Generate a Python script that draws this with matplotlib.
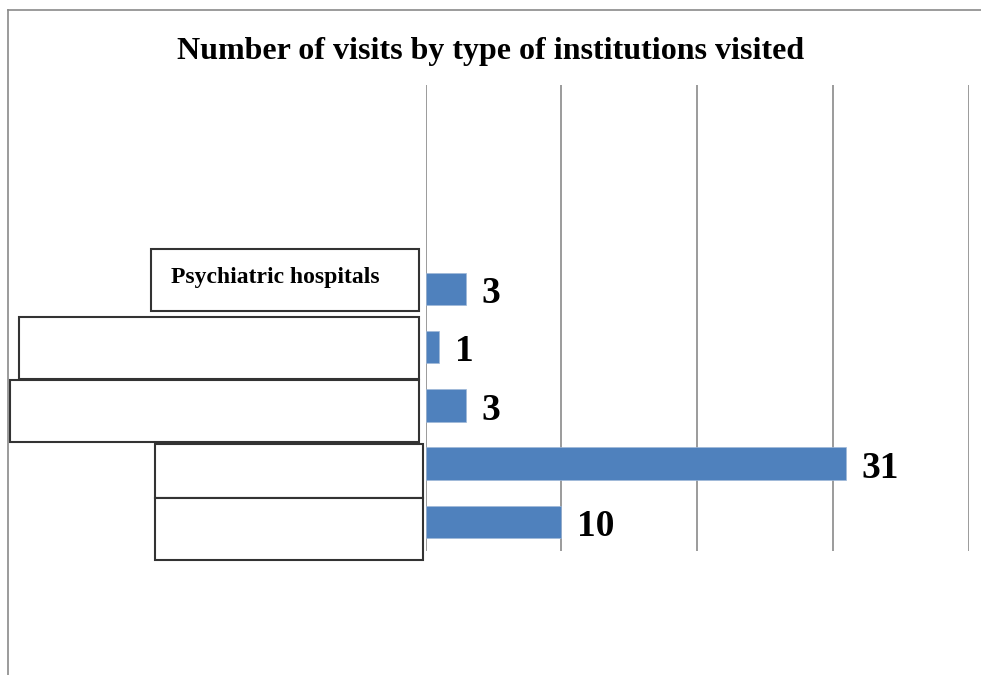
import matplotlib
matplotlib.use("Agg")
import matplotlib.pyplot as plt
from matplotlib.patches import Rectangle
from matplotlib.lines import Line2D

# ---- data (top to bottom as shown) ----
categories = ["", "", "", "Psychiatric hospitals", "", "", "", ""]
values = [None, None, None, 3, 1, 3, 31, 10]
x_ticks = [0, 10, 20, 30, 40]
title = "Number of visits by type of institutions visited"

W, H = 981, 675
fig = plt.figure(figsize=(W / 100, H / 100), dpi=100)
serif = ["Liberation Serif", "DejaVu Serif"]

def fx(px):
    return px / W

def fy(py):
    return 1 - py / H

# outer frame (top and left)
fig.add_artist(Line2D([fx(8), 1], [fy(10), fy(10)], color="#8a8a8a", lw=1.2))
fig.add_artist(Line2D([fx(8), fx(8)], [fy(10), 0], color="#8a8a8a", lw=1.2))

ax = fig.add_axes([fx(425.5), fy(551), fx(968.5) - fx(425.5), fy(85) - fy(551)])
n = len(categories)
ypos = [n - 1 - i for i in range(n)]
for y, v in zip(ypos, values):
    if v is None:
        continue
    ax.barh(y, v, height=0.56, color="#4F81BD", edgecolor="#9fb8d8", lw=0.5, zorder=3)
    ax.text(v + 1.15, y - 0.08, str(v), ha="left", va="center",
            fontsize=27, fontweight="bold", family=serif, zorder=4)

ax.set_xlim(x_ticks[0], x_ticks[-1])
ax.set_ylim(-0.5, n - 0.5)
for t in x_ticks:
    ax.axvline(t, color="#8a8a8a", lw=1.2, zorder=1)
for s in ax.spines.values():
    s.set_visible(False)
ax.set_xticks([])
ax.set_yticks([])
ax.patch.set_alpha(0)

fig.text(0.5, fy(52), title, ha="center", va="center",
         fontsize=23, fontweight="bold", family=serif)

# category label boxes (overlaid white boxes)
boxes = [(151, 249, 419, 311), (19, 317, 419, 379), (10, 380, 419, 442),
         (155, 444, 423, 498), (155, 498, 423, 560)]
for (x0, y0, x1, y1) in boxes:
    fig.add_artist(Rectangle((fx(x0), fy(y1)), fx(x1) - fx(x0), fy(y0) - fy(y1),
                             facecolor="white", edgecolor="#333333", lw=1.5,
                             transform=fig.transFigure, zorder=5))

fig.text(fx(171), fy(283), categories[3], ha="left", va="baseline",
         fontsize=17, fontweight="bold", family=serif, zorder=6)

fig.savefig("out.png", dpi=100)
